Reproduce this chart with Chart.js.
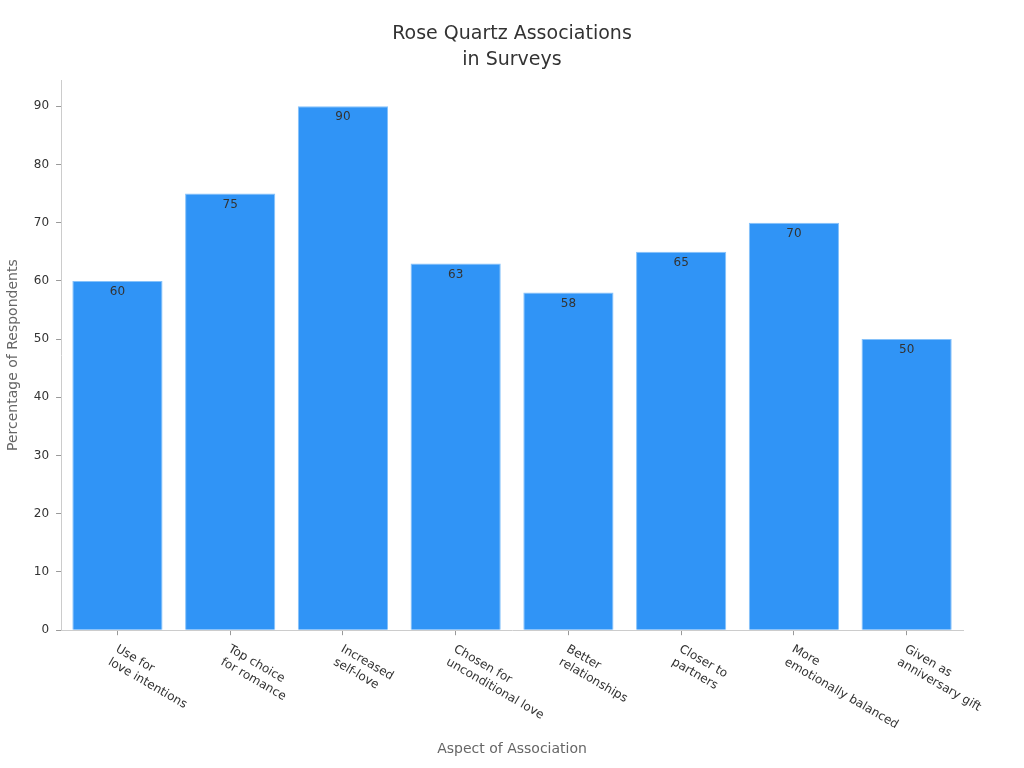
<!DOCTYPE html>
<html lang="en">
<head>
    <meta charset="UTF-8">
    <script src="https://cdn.jsdelivr.net/npm/chart.js@4.4.0/dist/chart.umd.min.js"></script>
    <title>Rose Quartz Associations in Surveys</title>
    <style>
        html, body { margin: 0; padding: 0; background: #fff; }
        #wrap { width: 1024px; height: 768px; }
    </style>
</head>
<body>
    <div id="wrap"><canvas id="chart1"></canvas></div>

    <script>
        var aspects = [
            ['Use for', 'love intentions'],
            ['Top choice', 'for romance'],
            ['Increased', 'self-love'],
            ['Chosen for', 'unconditional love'],
            ['Better', 'relationships'],
            ['Closer to', 'partners'],
            ['More', 'emotionally balanced'],
            ['Given as', 'anniversary gift']
        ];
        var percentages = [60, 75, 90, 63, 58, 65, 70, 50];
        var yTicks = [0, 10, 20, 30, 40, 50, 60, 70, 80, 90];

        var FONT = "'DejaVu Sans', sans-serif";

        // value label inside the top of each bar
        var valueLabels = {
            id: 'valueLabels',
            afterDatasetsDraw(chart) {
                var ctx = chart.ctx;
                var meta = chart.getDatasetMeta(0);
                ctx.save();
                ctx.font = '12px ' + FONT;
                ctx.fillStyle = '#333';
                ctx.textAlign = 'center';
                ctx.textBaseline = 'top';
                meta.data.forEach(function (bar, i) {
                    ctx.fillText(String(percentages[i]), bar.x, bar.y + 5);
                });
                ctx.restore();
            }
        };

        // x tick labels rotated clockwise, starting at the tick
        var slantLabels = {
            id: 'slantLabels',
            afterDraw(chart) {
                var ctx = chart.ctx;
                var xs = chart.scales.x;
                ctx.save();
                ctx.font = '12px ' + FONT;
                ctx.fillStyle = '#333';
                ctx.textAlign = 'left';
                ctx.textBaseline = 'middle';
                aspects.forEach(function (lines, i) {
                    var x = xs.getPixelForValue(i);
                    ctx.save();
                    ctx.translate(x - 1, xs.top + 18);
                    ctx.rotate(Math.PI / 6);
                    lines.forEach(function (line, j) {
                        ctx.fillText(line, 0, j * 15);
                    });
                    ctx.restore();
                });
                ctx.restore();
            }
        };

        var ctx = document.getElementById('chart1').getContext('2d');
        var myChart = new Chart(ctx, {
            type: 'bar',
            data: {
                labels: aspects,
                datasets: [{
                    data: percentages,
                    backgroundColor: '#3094f6',
                    borderColor: '#86c2fa',
                    borderWidth: 1,
                    barPercentage: 0.8,
                    categoryPercentage: 1
                }]
            },
            options: {
                responsive: true,
                maintainAspectRatio: false,
                animation: false,
                layout: { padding: { top: 0, right: 0, bottom: 4, left: 0 } },
                plugins: {
                    legend: { display: false },
                    tooltip: { enabled: false },
                    title: {
                        display: true,
                        text: ['Rose Quartz Associations', 'in Surveys'],
                        color: '#333',
                        font: { family: FONT, size: 19, weight: 'normal', lineHeight: 1.37 },
                        padding: { top: 21, bottom: 7 }
                    }
                },
                scales: {
                    x: {
                        grid: { display: true, offset: false, drawOnChartArea: false, drawTicks: true, tickLength: 5, color: '#999' },
                        border: { color: '#ccc' },
                        ticks: { display: false },
                        title: {
                            display: true,
                            text: 'Aspect of Association',
                            color: '#666',
                            font: { family: FONT, size: 14 },
                            padding: { top: 106, bottom: 6 }
                        }
                    },
                    y: {
                        min: 0,
                        max: 94.5,
                        afterBuildTicks: function (scale) {
                            scale.ticks = yTicks.map(function (v) { return { value: v }; });
                        },
                        grid: { display: true, drawOnChartArea: false, drawTicks: true, tickLength: 5, color: '#999' },
                        border: { color: '#ccc' },
                        ticks: {
                            color: '#333',
                            padding: 7,
                            font: { family: FONT, size: 12 }
                        },
                        title: {
                            display: true,
                            text: 'Percentage of Respondents',
                            color: '#666',
                            font: { family: FONT, size: 14 },
                            padding: { top: 5, bottom: 5 }
                        }
                    },
                    // empty right-hand gutter so the title stays centred on the page
                    gutter: {
                        position: 'right',
                        display: true,
                        grid: { display: false },
                        border: { display: false },
                        ticks: { display: false },
                        afterFit: function (scale) { scale.width = 61; }
                    }
                }
            },
            plugins: [valueLabels, slantLabels]
        });
    </script>
</body>
</html>
